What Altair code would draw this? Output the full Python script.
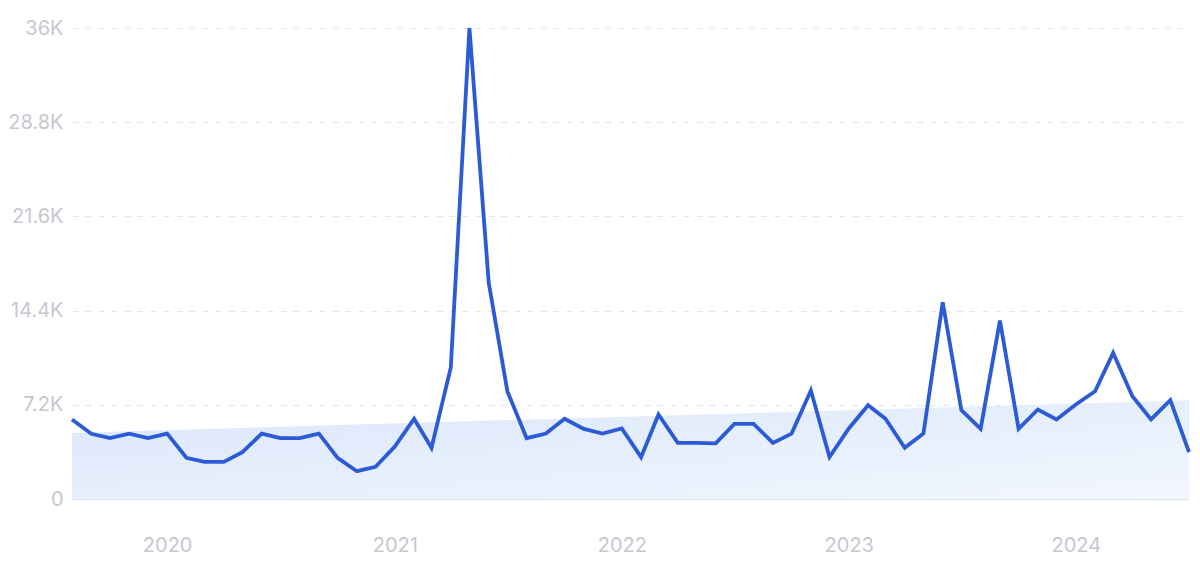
import altair as alt
import pandas as pd

# Monthly values, Aug 2019 - Jul 2024
values = [6080, 4980, 4650, 5000, 4650, 5000, 3150, 2840, 2840, 3580,
          5000, 4650, 4650, 5000, 3150, 2125, 2460, 4000, 6130, 3910,
          10030, 36000, 16550, 8240, 4650, 5000, 6130, 5360, 5000, 5390,
          3200, 6460, 4290, 4290, 4250, 5740, 5740, 4290, 5000, 8290,
          3200, 5390, 7170, 6130, 3910, 5000, 15040, 6790, 5360, 13640,
          5360, 6840, 6080, 7220, 8240, 11170, 7860, 6080, 7550, 3580]
months = [d.strftime("%Y-%m-%d") for d in pd.date_range("2019-08-01", periods=len(values), freq="MS")]

trend_dates = [months[0], months[-1]]
trend_values = [5050, 7550]

y_ticks = [0, 7200, 14400, 21600, 28800, 36000]
y_labels = ["0", "7.2K", "14.4K", "21.6K", "28.8K", "36K"]
year_ticks = ["2020-01-01", "2021-01-01", "2022-01-01", "2023-01-01", "2024-01-01"]

df = pd.DataFrame({"month": months, "value": values})
trend = pd.DataFrame({"month": trend_dates, "trend": trend_values})

label_expr = "{" + ", ".join(f"'{v}': '{l}'" for v, l in zip(y_ticks, y_labels)) + "}[datum.value]"

x_scale = alt.Scale(domain=[months[0], months[-1]], nice=False)
y_scale = alt.Scale(domain=[0, 36000], nice=False, zero=True)

x_enc = alt.X("month:T", scale=x_scale, title=None,
              axis=alt.Axis(values=year_ticks, format="%Y", grid=False, ticks=False,
                            domain=True, domainColor="#dfe6f1", domainWidth=1.5,
                            labelColor="#c6c7d0", labelFontSize=20, labelPadding=36,
                            labelFont="Inter", labelFontWeight=400))

area = alt.Chart(trend).mark_area(
    color=alt.Gradient(gradient="linear", x1=0, x2=1, y1=0, y2=1,
                       stops=[alt.GradientStop(color="#dae6fa", offset=0),
                              alt.GradientStop(color="#f2f7fe", offset=1)]),
    opacity=1,
).encode(
    x=x_enc,
    y=alt.Y("trend:Q", scale=y_scale, title=None,
            axis=alt.Axis(values=y_ticks, labelExpr=label_expr, grid=True,
                          gridDash=[6, 7], gridColor="#dfe6f3", gridWidth=1,
                          ticks=False, domain=False, labelColor="#c6c7d0",
                          labelFontSize=20, labelPadding=9, labelFont="Inter")),
)

line = alt.Chart(df).mark_line(color="#2c5bd6", strokeWidth=3.8).encode(
    x=alt.X("month:T", scale=x_scale),
    y=alt.Y("value:Q", scale=y_scale),
)

chart = alt.layer(area, line).properties(
    width=1117, height=471,
    background="white",
    autosize=alt.AutoSizeParams(type="none"),
    padding={"left": 64, "top": 20, "right": 3, "bottom": 60},
).configure_view(stroke=None)

chart.save("out.html", embed_options={"renderer": "svg", "actions": False})
